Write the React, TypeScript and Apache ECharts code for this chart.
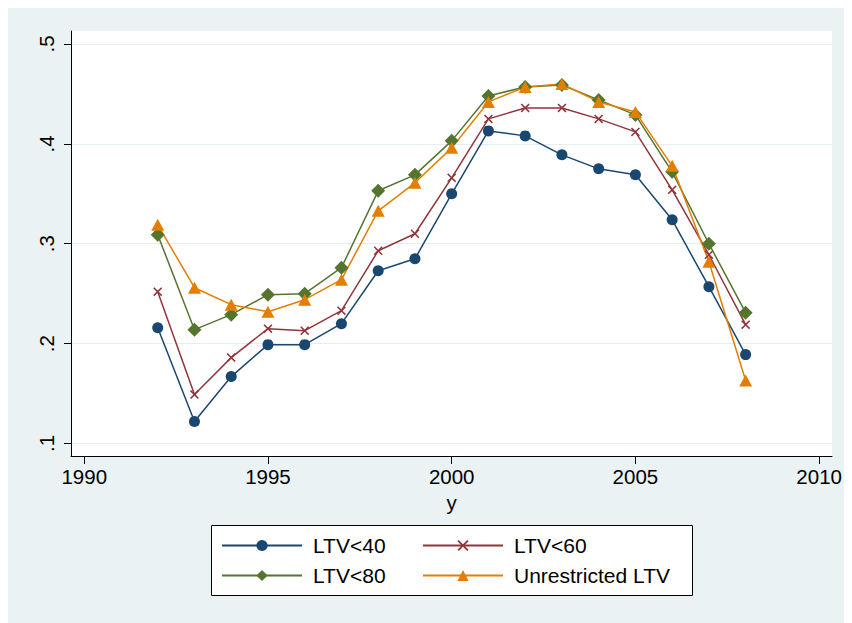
import React, { useEffect, useRef } from "react";
import * as echarts from "echarts";

const years = [1992, 1993, 1994, 1995, 1996, 1997, 1998, 1999, 2000, 2001, 2002, 2003, 2004, 2005, 2006, 2007, 2008];
const ltv40 = [0.216, 0.122, 0.167, 0.199, 0.199, 0.220, 0.273, 0.285, 0.350, 0.413, 0.408, 0.389, 0.375, 0.369, 0.324, 0.257, 0.189];
const ltv60 = [0.252, 0.149, 0.186, 0.215, 0.213, 0.233, 0.293, 0.310, 0.366, 0.425, 0.436, 0.436, 0.425, 0.412, 0.354, 0.289, 0.219];
const ltv80 = [0.309, 0.214, 0.229, 0.249, 0.250, 0.276, 0.353, 0.369, 0.403, 0.448, 0.457, 0.459, 0.444, 0.429, 0.372, 0.300, 0.231];
const unrestricted = [0.319, 0.256, 0.239, 0.232, 0.244, 0.264, 0.333, 0.361, 0.396, 0.442, 0.457, 0.460, 0.442, 0.432, 0.378, 0.282, 0.163];

const xTicks = [1990, 1995, 2000, 2005, 2010];
const yTicks = [0.1, 0.2, 0.3, 0.4, 0.5];
const seriesNames = ["LTV<40", "LTV<60", "LTV<80", "Unrestricted LTV"];

const FONT = "'Liberation Sans', Arial, Helvetica, sans-serif";
const BG = "#eaf2f3";
const X_PATH = "path://M0,1.2L1.2,0L5,3.8L8.8,0L10,1.2L6.2,5L10,8.8L8.8,10L5,6.2L1.2,10L0,8.8L3.8,5Z";
const FS = 20.5;

export default function App() {
  const ref = useRef<HTMLDivElement>(null);

  useEffect(() => {
    if (!ref.current) return;
    const chart = echarts.init(ref.current, null, { renderer: "svg" });
    const pairs = (vals: number[]) => years.map((y, i) => [y, vals[i]]);
    const mk = (name: string, vals: number[], color: string, symbol: string, size: any) => ({
      name,
      type: "line",
      data: pairs(vals),
      symbol,
      symbolSize: size,
      showSymbol: true,
      color,
      itemStyle: { color },
      lineStyle: { color, width: 1.5 },
      emphasis: { disabled: true },
    });
    const legendCommon = {
      itemWidth: 80,
      itemHeight: 14,
      padding: 0,
      z: 5,
      selectedMode: false,
      textStyle: { fontSize: 21, fontFamily: FONT, color: "#000", padding: [0, 0, 0, 6], lineHeight: 20 },
    };
    chart.setOption({
      animation: false,
      backgroundColor: BG,
      textStyle: { fontFamily: FONT },
      grid: { left: 63, top: 23, right: 20, bottom: 167, show: true, backgroundColor: "#fff", borderWidth: 0 },
      xAxis: {
        type: "value",
        min: 1989.64,
        max: 2010.35,
        name: "y",
        nameLocation: "middle",
        nameGap: 31,
        nameTextStyle: { fontSize: FS, color: "#000", fontFamily: FONT },
        axisLine: { show: true, lineStyle: { color: "#000", width: 1 } },
        axisTick: { show: true, length: 8, customValues: xTicks, lineStyle: { color: "#000" } },
        axisLabel: {
          customValues: xTicks,
          fontSize: FS,
          color: "#000",
          margin: 10,
          fontFamily: FONT,
          formatter: (v: number) => String(Math.round(v)),
        },
        splitLine: { show: false },
      },
      yAxis: {
        type: "value",
        min: 0.0875,
        max: 0.513,
        axisLine: { show: true, lineStyle: { color: "#000", width: 1 } },
        axisTick: { show: true, length: 7, customValues: yTicks, lineStyle: { color: "#000" } },
        axisLabel: {
          customValues: yTicks,
          rotate: 90,
          fontSize: FS,
          color: "#000",
          margin: 14,
          fontFamily: FONT,
          formatter: (v: number) => String(Math.round(v * 10) / 10).replace(/^0/, ""),
        },
        splitLine: { show: true, lineStyle: { color: "#e6eef1", width: 1.2 } },
      },
      legend: [
        { ...legendCommon, data: [seriesNames[0]], left: 213, top: 527 },
        { ...legendCommon, data: [seriesNames[1]], left: 414, top: 527 },
        { ...legendCommon, data: [seriesNames[2]], left: 213, top: 557 },
        { ...legendCommon, data: [seriesNames[3]], left: 414, top: 557 },
      ],
      graphic: [
        {
          type: "rect",
          left: 203,
          top: 517,
          z: 1,
          shape: { width: 481, height: 70 },
          style: { fill: "#fff", stroke: "#000", lineWidth: 1 },
        },
      ],
      series: [
        mk(seriesNames[0], ltv40, "#1a476f", "circle", 11),
        mk(seriesNames[1], ltv60, "#90353b", X_PATH, 9),
        mk(seriesNames[2], ltv80, "#55752f", "diamond", 14),
        mk(seriesNames[3], unrestricted, "#e37e00", "triangle", [13, 12]),
      ],
    });
    return () => chart.dispose();
  }, []);

  return <div ref={ref} style={{ width: 844, height: 615, background: BG }} />;
}
